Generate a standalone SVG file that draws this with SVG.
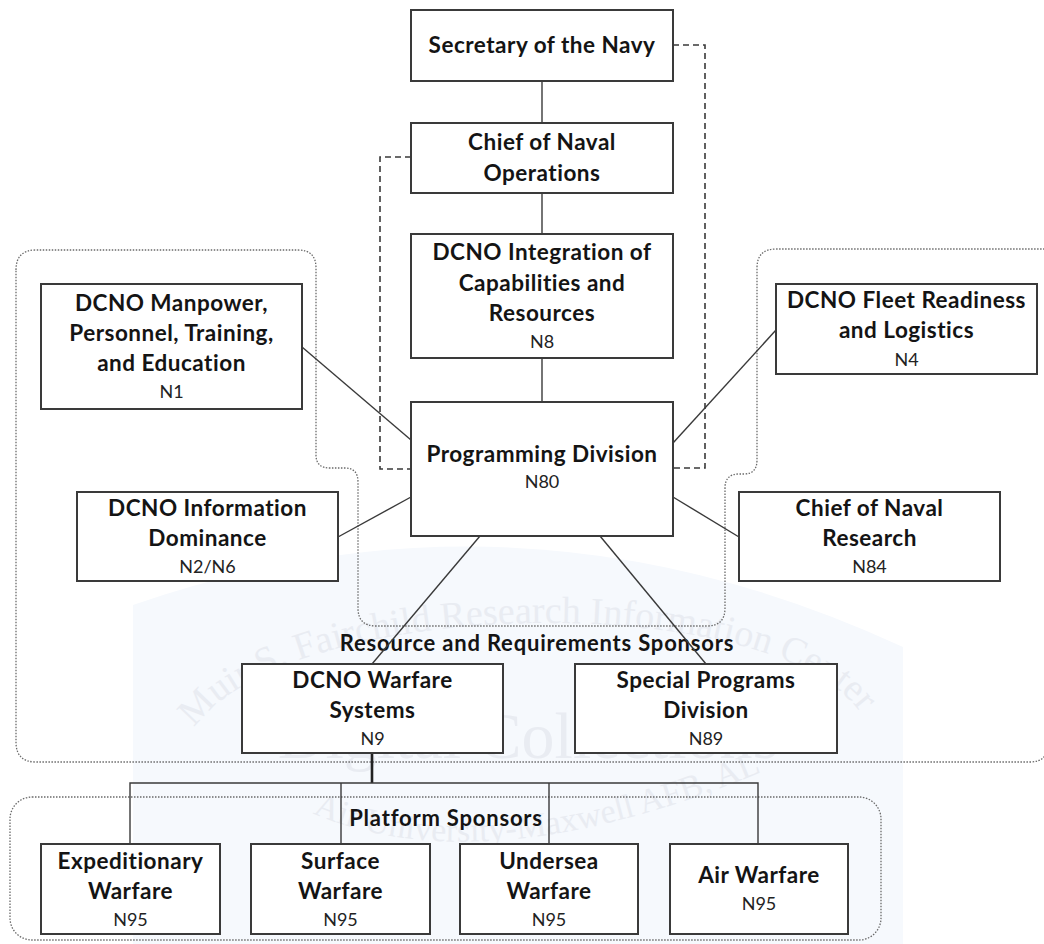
<svg xmlns="http://www.w3.org/2000/svg" width="1044" height="944" viewBox="0 0 1044 944">
<defs>
<style>
.box{fill:#fff;stroke:#3a3a3a;stroke-width:2}
.t{font-family:Lato,"Liberation Sans",sans-serif;font-weight:bold;font-size:22.5px;letter-spacing:0.5px;fill:#141414;text-anchor:middle}
.c{font-family:Lato,"Liberation Sans",sans-serif;font-size:18px;fill:#222;text-anchor:middle}
.lbl{font-family:Lato,"Liberation Sans",sans-serif;font-weight:bold;font-size:22px;letter-spacing:0.8px;fill:#141414;text-anchor:middle}
.ln{fill:none;stroke:#3a3a3a;stroke-width:1.4}
.dash{fill:none;stroke:#3a3a3a;stroke-width:1.6;stroke-dasharray:6,4}
.dot{fill:none;stroke:#6a6a6a;stroke-width:1.3;stroke-dasharray:1.5,1.5}
.wm{font-family:"Liberation Serif",serif;fill:#e9ecf2}
</style>
<path id="arc1" d="M185,745 C250,590 810,580 870,730"/>
<path id="arc2" d="M285,800 Q470,900 790,760"/>
</defs>
<rect width="1044" height="944" fill="#fff"/>
<g id="watermark">
<path d="M133,944 V605 Q520,470 903,647 V944 Z" fill="#f6f9fd"/>
<text class="wm" font-size="38"><textPath href="#arc1" startOffset="50%" text-anchor="middle">Muir S. Fairchild Research Information Center</textPath></text>
<text class="wm" x="528" y="758" font-size="66" text-anchor="middle">Digital Collections</text>
<text class="wm" font-size="34"><textPath href="#arc2" startOffset="50%" text-anchor="middle">Air University-Maxwell AFB, AL</textPath></text>
</g>
<g id="region-resource">
<path class="dot" d="M16,270 Q16,250 36,250 H298 Q316,250 316,268 V455 Q316,468 330,468 H345 Q358,468 358,482 V608 Q358,626 376,626 H707 Q725,626 725,608 V488 Q725,474 739,474 H744 Q757,474 757,460 V268 Q757,249 776,249 H1048 V744 Q1048,762 1030,762 H36 Q16,762 16,742 Z"/>
<text class="lbl" x="537" y="651">Resource and Requirements Sponsors</text>
</g>
<g id="region-platform">
<rect class="dot" x="10" y="797" width="871" height="143" rx="22"/>
<text class="lbl" x="446" y="826">Platform Sponsors</text>
</g>
<g id="connectors">
<line class="ln" x1="542" y1="81" x2="542" y2="123"/>
<line class="ln" x1="542" y1="193" x2="542" y2="234"/>
<line class="ln" x1="542" y1="358" x2="542" y2="402"/>
<line class="ln" x1="302" y1="347" x2="411" y2="440"/>
<line class="ln" x1="776" y1="330" x2="673" y2="443"/>
<line class="ln" x1="338" y1="537" x2="411" y2="497"/>
<line class="ln" x1="673" y1="497" x2="739" y2="537"/>
<line class="ln" x1="480" y1="536" x2="372" y2="664"/>
<line class="ln" x1="600" y1="536" x2="706" y2="664"/>
<path class="dash" d="M673,45 H705 V468 H673"/>
<path class="dash" d="M411,157 H380 V469 H411"/>
<line x1="372" y1="753" x2="372" y2="783" stroke="#222" stroke-width="2.6"/>
<path class="ln" d="M130,844 V783 H758 V844 M341,783 V844 M549,783 V844"/>
</g>
<g id="node-secnav">
<rect class="box" x="411" y="10" width="262" height="71"/>
<text class="t" x="542" y="53">Secretary of the Navy</text>
</g>
<g id="node-cno">
<rect class="box" x="411" y="123" width="262" height="70"/>
<text class="t" x="542" y="150">Chief of Naval</text>
<text class="t" x="542" y="181">Operations</text>
</g>
<g id="node-n8">
<rect class="box" x="411" y="234" width="262" height="124"/>
<text class="t" x="542" y="260">DCNO Integration of</text>
<text class="t" x="542" y="291">Capabilities and</text>
<text class="t" x="542" y="321">Resources</text>
<text class="c" x="542" y="348">N8</text>
</g>
<g id="node-n80">
<rect class="box" x="411" y="402" width="262" height="134"/>
<text class="t" x="542" y="462">Programming Division</text>
<text class="c" x="542" y="488">N80</text>
</g>
<g id="node-n1">
<rect class="box" x="41" y="284" width="261" height="125"/>
<text class="t" x="171.5" y="311">DCNO Manpower,</text>
<text class="t" x="171.5" y="341">Personnel, Training,</text>
<text class="t" x="171.5" y="371">and Education</text>
<text class="c" x="171.5" y="398">N1</text>
</g>
<g id="node-n4">
<rect class="box" x="776" y="284" width="261" height="90"/>
<text class="t" x="906.5" y="308">DCNO Fleet Readiness</text>
<text class="t" x="906.5" y="338">and Logistics</text>
<text class="c" x="906.5" y="366">N4</text>
</g>
<g id="node-n2n6">
<rect class="box" x="77" y="492" width="261" height="89"/>
<text class="t" x="207.5" y="516">DCNO Information</text>
<text class="t" x="207.5" y="546">Dominance</text>
<text class="c" x="207.5" y="573">N2/N6</text>
</g>
<g id="node-n84">
<rect class="box" x="739" y="492" width="261" height="89"/>
<text class="t" x="869.5" y="516">Chief of Naval</text>
<text class="t" x="869.5" y="546">Research</text>
<text class="c" x="869.5" y="573">N84</text>
</g>
<g id="node-n9">
<rect class="box" x="242" y="664" width="261" height="89"/>
<text class="t" x="372.5" y="688">DCNO Warfare</text>
<text class="t" x="372.5" y="718">Systems</text>
<text class="c" x="372.5" y="745">N9</text>
</g>
<g id="node-n89">
<rect class="box" x="575" y="664" width="262" height="89"/>
<text class="t" x="706" y="688">Special Programs</text>
<text class="t" x="706" y="718">Division</text>
<text class="c" x="706" y="745">N89</text>
</g>
<g id="node-expeditionary">
<rect class="box" x="41" y="844" width="179" height="90"/>
<text class="t" x="130.5" y="869">Expeditionary</text>
<text class="t" x="130.5" y="899">Warfare</text>
<text class="c" x="130.5" y="926">N95</text>
</g>
<g id="node-surface">
<rect class="box" x="251" y="844" width="179" height="90"/>
<text class="t" x="340.5" y="869">Surface</text>
<text class="t" x="340.5" y="899">Warfare</text>
<text class="c" x="340.5" y="926">N95</text>
</g>
<g id="node-undersea">
<rect class="box" x="460" y="844" width="178" height="90"/>
<text class="t" x="549" y="869">Undersea</text>
<text class="t" x="549" y="899">Warfare</text>
<text class="c" x="549" y="926">N95</text>
</g>
<g id="node-air">
<rect class="box" x="670" y="844" width="178" height="90"/>
<text class="t" x="759" y="883">Air Warfare</text>
<text class="c" x="759" y="910">N95</text>
</g>
</svg>
